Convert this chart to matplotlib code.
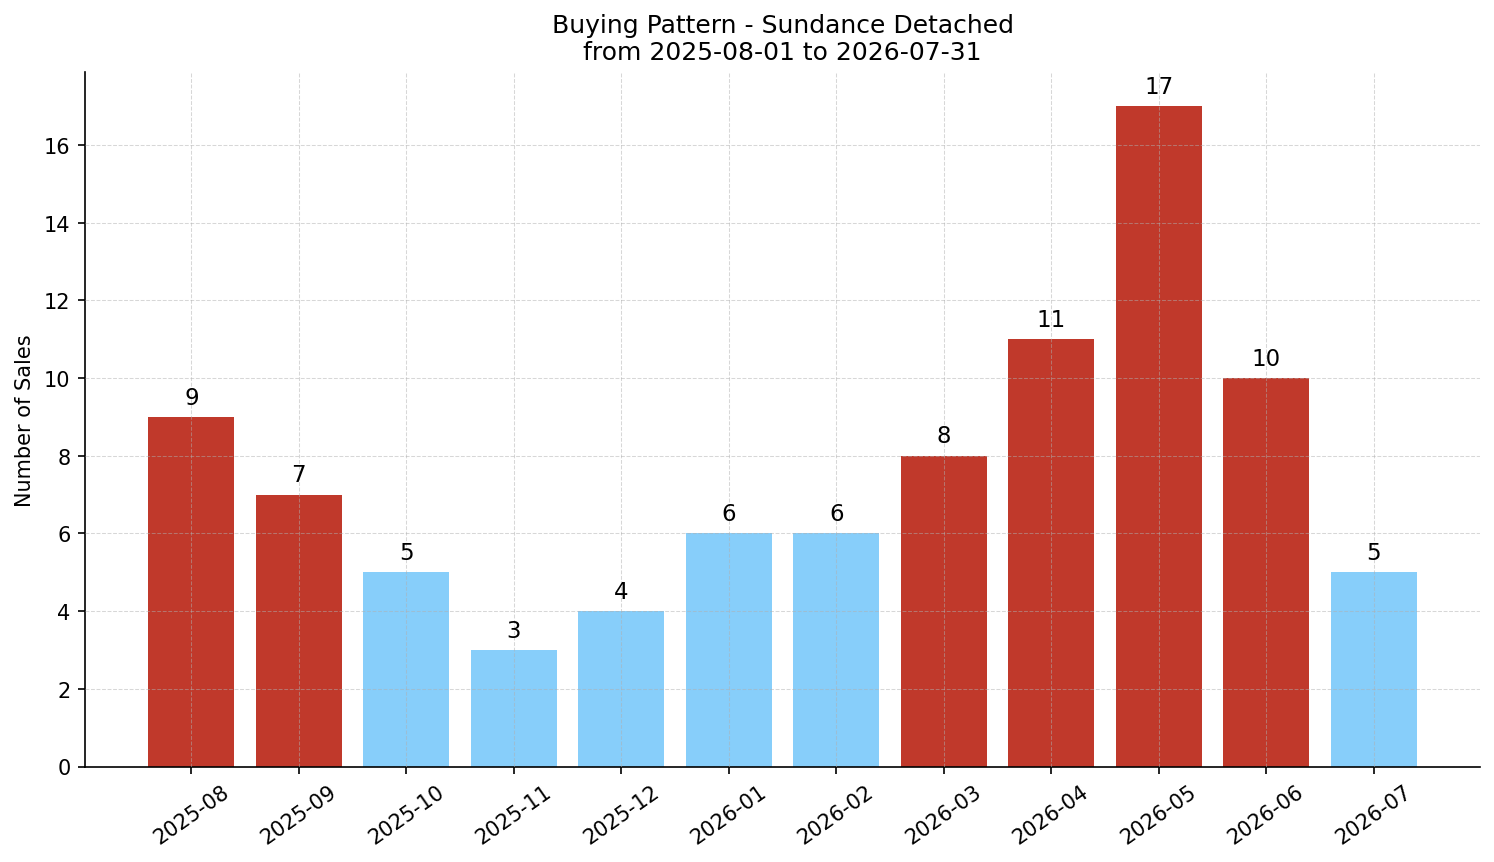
import matplotlib
matplotlib.use("Agg")
import matplotlib.pyplot as plt

months = ["2025-08", "2025-09", "2025-10", "2025-11", "2025-12", "2026-01",
          "2026-02", "2026-03", "2026-04", "2026-05", "2026-06", "2026-07"]
sales = [9, 7, 5, 3, 4, 6, 6, 8, 11, 17, 10, 5]
threshold = 7
colors = ["#c0392b" if v >= threshold else "#87cefa" for v in sales]

fig = plt.figure(figsize=(9.96, 5.753), dpi=150)
ax = fig.add_axes([85/1494, 1-767.5/863, (1480-85)/1494, (767.5-73)/863])
x = list(range(len(months)))
bars = ax.bar(x, sales, color=colors, width=0.8, zorder=1)
for xi, v in zip(x, sales):
    ax.annotate(str(v), (xi, v), xytext=(0, 4), textcoords="offset points",
                ha="center", va="bottom", fontsize=11)
ax.set_xticks(x)
ax.set_xticklabels(months, rotation=35)
ax.set_ylim(0, 17.88)
ax.set_ylabel("Number of Sales")
ax.set_title("Buying Pattern - Sundance Detached\nfrom 2025-08-01 to 2026-07-31", fontsize=12)
ax.set_axisbelow(False)
ax.grid(True, linestyle="--", linewidth=0.5, alpha=0.5, zorder=3)
ax.spines["top"].set_visible(False)
ax.spines["right"].set_visible(False)
fig.savefig("out.png", dpi=150)
